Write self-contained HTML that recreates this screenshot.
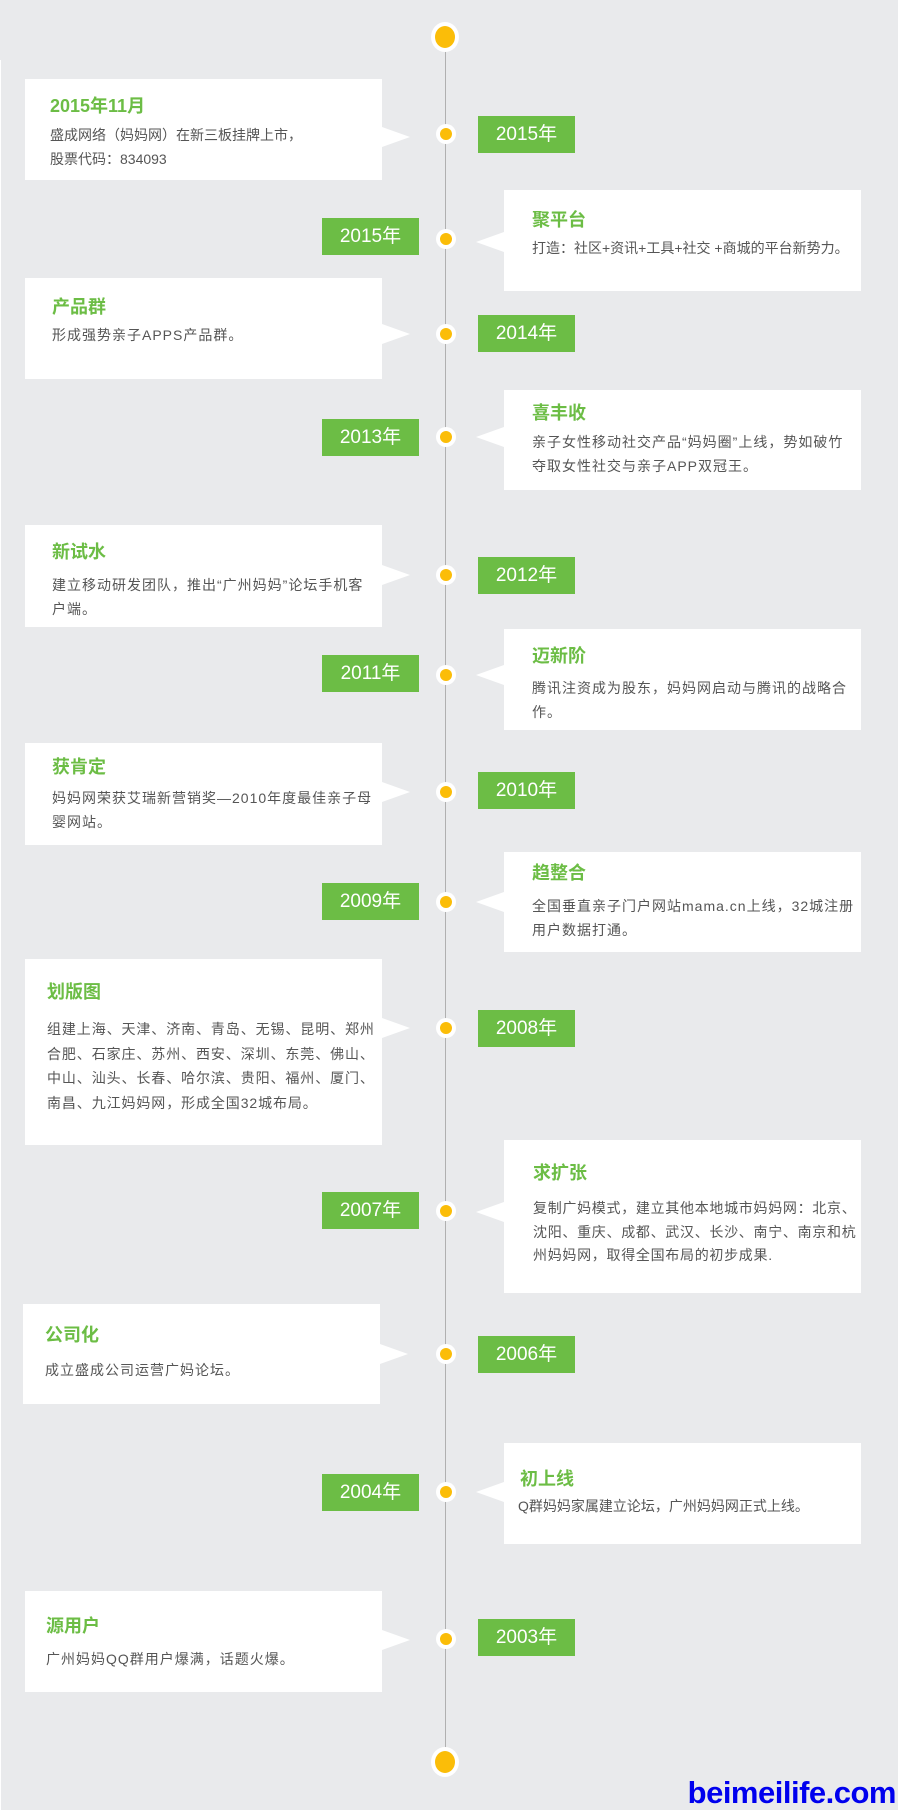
<!DOCTYPE html>
<html><head><meta charset="utf-8"><style>
*{margin:0;padding:0;box-sizing:border-box}
body{width:898px;height:1810px;background:#e9eaec;position:relative;overflow:hidden;font-family:"Liberation Sans","Noto Sans CJK SC",sans-serif}
.strip{position:absolute;left:0;top:60px;width:1px;height:1750px;background:#fff}
.line{position:absolute;left:445px;top:37px;width:1px;height:1725px;background:#b0b0b0}
.big{position:absolute;width:28px;height:30px;border-radius:50%;background:#fff;left:431px}
.big:after{content:"";position:absolute;left:4px;top:4px;width:20px;height:22px;border-radius:50%;background:#fbbd08}
.dot{position:absolute;left:436px;width:20px;height:20px;border-radius:50%;background:#fff}
.dot:after{content:"";position:absolute;left:4px;top:4px;width:12px;height:12px;border-radius:50%;background:#fbbd08}
.box{position:absolute;background:#fff}
.L{left:25px;width:357px}
.R{left:504px;width:357px}
.L:after{content:"";position:absolute;right:-28px;width:0;height:0;border-top:10px solid transparent;border-bottom:10px solid transparent;border-left:28px solid #fff;top:var(--a)}
.R:before{content:"";position:absolute;left:-28px;width:0;height:0;border-top:10px solid transparent;border-bottom:10px solid transparent;border-right:28px solid #fff;top:var(--a)}
.t{position:absolute;color:#6cbd45;font-weight:bold;font-size:18px;line-height:24px;white-space:nowrap}
.p{position:absolute;color:#555;font-size:14px;line-height:24px;white-space:nowrap;letter-spacing:1px}
.lab{position:absolute;width:97px;height:37px;background:#6cbd45;color:#fff;font-size:19px;line-height:37px;text-align:center}
.ll{left:322px}.lr{left:478px}
.wm{position:absolute;right:2px;top:1776px;color:#0000ee;font-weight:bold;font-size:31px;line-height:34px;letter-spacing:-0.5px}
</style></head><body>
<div class="strip"></div>
<div class="line"></div>
<div class="big" style="top:22px"></div>
<div class="big" style="top:1747px"></div>

<div class="box L" style="top:79px;height:101px;--a:48px"><div class="t" style="left:25px;top:15px">2015年11月</div><div class="p" style="left:25px;top:44px;letter-spacing:0">盛成网络（妈妈网）在新三板挂牌上市，<br>股票代码：834093</div></div>
<div class="dot" style="top:124px"></div><div class="lab lr" style="top:116px">2015年</div>

<div class="box R" style="top:190px;height:101px;--a:42px"><div class="t" style="left:28px;top:18px">聚平台</div><div class="p" style="left:28px;top:46px;letter-spacing:0">打造：社区+资讯+工具+社交 +商城的平台新势力。</div></div>
<div class="dot" style="top:229px"></div><div class="lab ll" style="top:218px">2015年</div>

<div class="box L" style="top:278px;height:101px;--a:46px"><div class="t" style="left:27px;top:17px">产品群</div><div class="p" style="left:27px;top:45px">形成强势亲子APPS产品群。</div></div>
<div class="dot" style="top:324px"></div><div class="lab lr" style="top:315px">2014年</div>

<div class="box R" style="top:390px;height:100px;--a:37px"><div class="t" style="left:28px;top:11px">喜丰收</div><div class="p" style="left:28px;top:40px">亲子女性移动社交产品“妈妈圈”上线，势如破竹<br>夺取女性社交与亲子APP双冠王。</div></div>
<div class="dot" style="top:427px"></div><div class="lab ll" style="top:419px">2013年</div>

<div class="box L" style="top:525px;height:102px;--a:40px"><div class="t" style="left:27px;top:15px">新试水</div><div class="p" style="left:27px;top:48px">建立移动研发团队，推出“广州妈妈”论坛手机客<br>户端。</div></div>
<div class="dot" style="top:565px"></div><div class="lab lr" style="top:557px">2012年</div>

<div class="box R" style="top:629px;height:101px;--a:36px"><div class="t" style="left:28px;top:15px">迈新阶</div><div class="p" style="left:28px;top:47px">腾讯注资成为股东，妈妈网启动与腾讯的战略合<br>作。</div></div>
<div class="dot" style="top:665px"></div><div class="lab ll" style="top:655px">2011年</div>

<div class="box L" style="top:743px;height:102px;--a:39px"><div class="t" style="left:27px;top:12px">获肯定</div><div class="p" style="left:27px;top:43px">妈妈网荣获艾瑞新营销奖—2010年度最佳亲子母<br>婴网站。</div></div>
<div class="dot" style="top:782px"></div><div class="lab lr" style="top:772px">2010年</div>

<div class="box R" style="top:852px;height:100px;--a:40px"><div class="t" style="left:28px;top:9px">趋整合</div><div class="p" style="left:28px;top:42px">全国垂直亲子门户网站mama.cn上线，32城注册<br>用户数据打通。</div></div>
<div class="dot" style="top:892px"></div><div class="lab ll" style="top:883px">2009年</div>

<div class="box L" style="top:959px;height:186px;--a:59px"><div class="t" style="left:22px;top:21px">划版图</div><div class="p" style="left:22px;top:58px;line-height:24.5px;letter-spacing:0.9px">组建上海、天津、济南、青岛、无锡、昆明、郑州<br>合肥、石家庄、苏州、西安、深圳、东莞、佛山、<br>中山、汕头、长春、哈尔滨、贵阳、福州、厦门、<br>南昌、九江妈妈网，形成全国32城布局。</div></div>
<div class="dot" style="top:1018px"></div><div class="lab lr" style="top:1010px">2008年</div>

<div class="box R" style="top:1140px;height:153px;--a:62px"><div class="t" style="left:29px;top:21px">求扩张</div><div class="p" style="left:29px;top:57px;line-height:23.5px;letter-spacing:0.7px">复制广妈模式，建立其他本地城市妈妈网：北京、<br>沈阳、重庆、成都、武汉、长沙、南宁、南京和杭<br>州妈妈网，取得全国布局的初步成果.</div></div>
<div class="dot" style="top:1201px"></div><div class="lab ll" style="top:1192px">2007年</div>

<div class="box L" style="top:1304px;height:100px;--a:40px;left:23px"><div class="t" style="left:22px;top:19px">公司化</div><div class="p" style="left:22px;top:54px">成立盛成公司运营广妈论坛。</div></div>
<div class="dot" style="top:1344px"></div><div class="lab lr" style="top:1336px">2006年</div>

<div class="box R" style="top:1443px;height:101px;--a:39px"><div class="t" style="left:16px;top:24px">初上线</div><div class="p" style="left:14px;top:51px;letter-spacing:0">Q群妈妈家属建立论坛，广州妈妈网正式上线。</div></div>
<div class="dot" style="top:1482px"></div><div class="lab ll" style="top:1474px">2004年</div>

<div class="box L" style="top:1591px;height:101px;--a:39px"><div class="t" style="left:21px;top:23px">源用户</div><div class="p" style="left:21px;top:56px">广州妈妈QQ群用户爆满，话题火爆。</div></div>
<div class="dot" style="top:1629px"></div><div class="lab lr" style="top:1619px">2003年</div>

<div class="wm">beimeilife.com</div>
</body></html>
